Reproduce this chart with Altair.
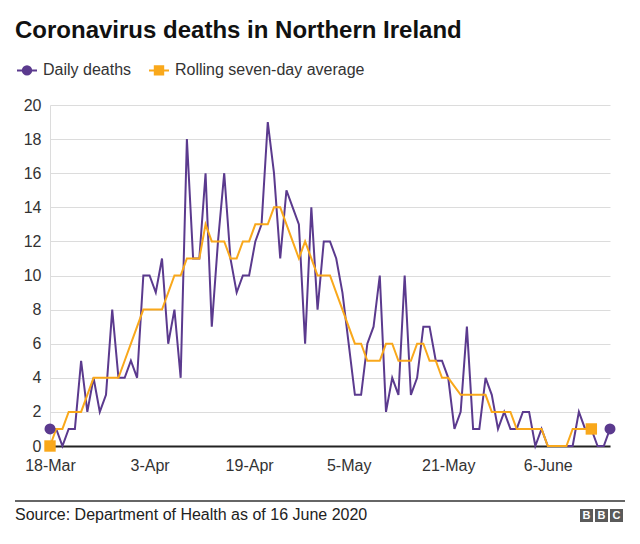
import altair as alt
import pandas as pd

# ---------------- data ----------------
dates = pd.date_range("2020-03-18", periods=91, freq="D").strftime("%Y-%m-%d").tolist()

daily_deaths = [1, 1, 0, 1, 1, 5, 2, 4, 2, 3,
                8, 4, 4, 5, 4, 10, 10, 9, 11, 6,
                8, 4, 18, 11, 11, 16, 7, 12, 16, 11,
                9, 10, 10, 12, 13, 19, 16, 11, 15, 14,
                13, 6, 14, 8, 12, 12, 11, 9, 6, 3,
                3, 6, 7, 10, 2, 4, 3, 10, 3, 4,
                7, 7, 5, 5, 4, 1, 2, 7, 1, 1,
                4, 3, 1, 2, 1, 1, 2, 2, 0, 1,
                0, 0, 0, 0, 0, 2, 1, 1, 0, 0, 1]

rolling_average = [0, 1, 1, 2, 2, 2, 3, 4, 4, 4,
                   4, 4, 5, 6, 7, 8, 8, 8, 8, 9,
                   10, 10, 11, 11, 11, 13, 12, 12, 12, 11,
                   11, 12, 12, 13, 13, 13, 14, 14, 13, 12,
                   11, 12, 11, 10, 10, 10, 9, 8, 7, 6,
                   6, 5, 5, 5, 6, 6, 5, 5, 5, 6,
                   6, 5, 5, 4, 4, 3.5, 3, 3, 3, 3,
                   3, 2, 2, 2, 2, 1, 1, 1, 1, 1,
                   0, 0, 0, 0, 1, 1, 1, 1]

series_names = ["Daily deaths", "Rolling seven-day average"]
series_colors = ["#5B3A8E", "#F9A81B"]
tick_dates = ["2020-03-18", "2020-04-03", "2020-04-19", "2020-05-05", "2020-05-21", "2020-06-06"]
y_ticks = list(range(0, 21, 2))

title_text = "Coronavirus deaths in Northern Ireland"
source_text = "Source: Department of Health as of 16 June 2020"
logo_letters = ["B", "B", "C"]

FONT = "Liberation Sans"
PURPLE, ORANGE = series_colors

# ---------------- tables ----------------
df_daily = pd.DataFrame({"date": dates, "deaths": daily_deaths, "series": series_names[0]})
df_roll = pd.DataFrame({"date": dates[:len(rolling_average)], "deaths": rolling_average,
                        "series": series_names[1]})
df_daily_ends = df_daily.iloc[[0, -1]]
df_roll_ends = df_roll.iloc[[0, -1]]
df_legend = pd.DataFrame({"series": series_names})


def dt(s):
    y, m, d = map(int, s.split("-"))
    return alt.DateTime(year=y, month=m, date=d, utc=True)


label_expr = ("utcFormat(datum.value, '%-d') + '-' + "
              "(utcFormat(datum.value, '%b') == 'Jun' ? 'June' : utcFormat(datum.value, '%b'))")

x_enc = alt.X("date:T",
              scale=alt.Scale(type="utc", domain=[dt(dates[0]), dt(dates[-1])]),
              axis=alt.Axis(values=[dt(t) for t in tick_dates], labelExpr=label_expr, title=None,
                            grid=False, ticks=False, domainColor="#222", domainWidth=2,
                            labelPadding=11, labelFlush=False))
y_enc = alt.Y("deaths:Q",
              scale=alt.Scale(domain=[0, 20], nice=False),
              axis=alt.Axis(values=y_ticks, title=None, ticks=False, grid=True,
                            gridColor="#dcdcdc", gridWidth=1, domainColor="#dcdcdc",
                            labelPadding=9))

purple_line = alt.Chart(df_daily).mark_line(color=PURPLE, strokeWidth=2).encode(x=x_enc, y=y_enc)
orange_line = alt.Chart(df_roll).mark_line(color=ORANGE, strokeWidth=2).encode(x=x_enc, y=y_enc)
purple_ends = alt.Chart(df_daily_ends).mark_circle(color=PURPLE, size=120, opacity=1).encode(x=x_enc, y=y_enc)
orange_ends = alt.Chart(df_roll_ends).mark_square(color=ORANGE, size=130, opacity=1).encode(x=x_enc, y=y_enc)


# legend symbols: a short line with a (stroke-filled) circle / square on it
def rings(radii):
    parts = []
    for r in radii:
        parts.append(f"M{r},0A{r},{r},0,1,1,{-r},0A{r},{r},0,1,1,{r},0Z")
    return "M-1,0L1,0" + "".join(parts)


def boxes(halves):
    parts = []
    for h in halves:
        parts.append(f"M{-h},{-h}L{h},{-h}L{h},{h}L{-h},{h}Z")
    return "M-1,0L1,0" + "".join(parts)


circle_path = rings([0.08, 0.25, 0.42])
square_path = boxes([0.08, 0.25, 0.42])

leg = alt.Legend(title=None, orient="none", legendX=-34, legendY=-46, direction="horizontal",
                 symbolSize=400, symbolStrokeWidth=2, labelFont=FONT, labelFontSize=16,
                 labelColor="#333", labelOffset=5, columnPadding=13, labelLimit=400)
legend_layer = alt.Chart(df_legend).mark_point(filled=False, size=0, opacity=1, strokeWidth=2).encode(
    color=alt.Color("series:N", scale=alt.Scale(domain=series_names, range=series_colors), legend=leg),
    shape=alt.Shape("series:N", scale=alt.Scale(domain=series_names, range=[circle_path, square_path]),
                    legend=leg),
)

divider = alt.Chart(pd.DataFrame({"k": [0]})).mark_rule(color="#333", strokeWidth=1.5).encode(
    x=alt.value(-35), x2=alt.value(575), y=alt.value(396))
source = alt.Chart(pd.DataFrame({"t": [source_text]})).mark_text(
    align="left", baseline="middle", font=FONT, fontSize=16, color="#222").encode(
    text="t:N", x=alt.value(-35), y=alt.value(410))

logo_layers = []
for i, letter in enumerate(logo_letters):
    x0 = 530 + 15 * i
    logo_layers.append(alt.Chart(pd.DataFrame({"t": [letter]})).mark_rect(color="#5a5a5a").encode(
        x=alt.value(x0), x2=alt.value(x0 + 13), y=alt.value(404), y2=alt.value(417)))
    logo_layers.append(alt.Chart(pd.DataFrame({"t": [letter]})).mark_text(
        align="center", baseline="middle", font=FONT, fontSize=11, fontWeight="bold",
        color="white").encode(text="t:N", x=alt.value(x0 + 6.5), y=alt.value(411)))

chart = alt.layer(
    purple_line, orange_line, purple_ends, orange_ends, legend_layer, divider, source, *logo_layers
).properties(
    width=560, height=341,
    padding={"left": 42, "top": 97, "right": 22, "bottom": 90},
    autosize="none",
    title=alt.TitleParams(title_text, anchor="start", frame="group", font=FONT, fontSize=24,
                          fontWeight="bold", color="#111", dx=-35, offset=16),
).configure_axis(
    labelFont=FONT, labelFontSize=16, labelColor="#333"
).configure_view(stroke=None)

chart.save("out.html", embed_options={"renderer": "svg", "actions": False})
